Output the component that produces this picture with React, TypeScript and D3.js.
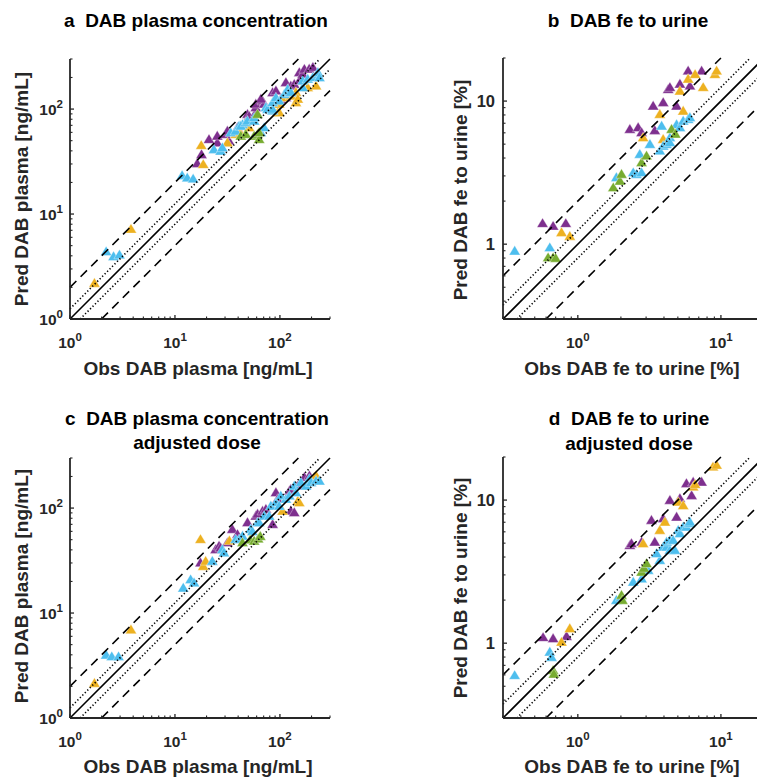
import React from 'react';
import * as d3 from 'd3';

type Pt = [number, number]; // [observed, predicted]

const PURPLE = '#7E2F8E';
const ORANGE = '#EDB120';
const BLUE = '#4DBEEE';
const GREEN = '#77AC30';

// ---------- Panel a: DAB plasma concentration ----------
const aPurple: Pt[] = [[16.3,30.4],[17.9,37.1],[21.1,51.6],[25.3,48],[25.3,55.6],[32.7,50],[30.4,57.7],[31.6,62],[39.4,67],[49.1,89.6],[50.9,86],[58.9,93],[58.9,104],[58.9,112],[68.3,120],[70.8,112],[65.8,125],[85.2,144.5],[91.6,150],[102,125],[114,129],[114,180],[127,167],[137,173],[153,187],[153,224],[165,216],[171,241],[190,242],[206,251]];
const aOrange: Pt[] = [[1.71,2.2],[3.81,7.2],[18.6,29.8],[17.8,45.3],[31.6,48],[37.9,57.7],[40.8,62],[50.9,67],[95,93],[98.5,93],[98.5,112],[106,129],[132,134],[142,116],[142,145],[127,134],[148,125],[184,161],[221,167]];
const aBlue: Pt[] = [[2.21,4.4],[2.6,3.95],[2.96,4.1],[11.7,23.4],[13.1,22.2],[14.9,21.7],[23.5,41.4],[27.2,39.9],[28.3,43],[34,59.8],[37.9,62],[40.8,69.2],[44,71.8],[42.4,69.2],[47.3,74.5],[49.1,77.3],[56.8,77.3],[56.8,83.2],[65.8,59.8],[70.8,66.8],[73.5,104],[76.2,100],[85.2,96.4],[85.2,100],[85.2,116],[91.6,129],[98.5,120],[110,139],[118.6,155],[123,144.5],[127,145],[165,161],[165,187],[184,194],[206,201],[230,216],[230,224],[238,200]];
const aGreen: Pt[] = [[42.4,55.6],[47.3,57.7],[56.8,55.6],[61.2,57.7],[63.4,51.6],[63.4,60],[61.2,89.6]];

// ---------- Panel b: DAB fe to urine ----------
const bPurple: Pt[] = [[0.567,1.40],[0.672,1.34],[0.824,1.40],[2.31,6.37],[2.64,6.55],[2.79,6.04],[3.45,6.25],[3.36,9.27],[3.95,9.8],[4.9,9.27],[4.28,12.1],[4.4,12.5],[5.17,13.2],[6.07,12.8],[5.9,16.3],[7.33,16.3]];
const bOrange: Pt[] = [[0.769,1.21],[0.879,1.14],[2.86,5.57],[3.95,5.42],[3.74,8.1],[5.45,8.55],[5.17,11.8],[5.9,14.3],[6.6,15.4],[7.52,12.5],[9.08,15.4],[9.33,16.3]];
const bBlue: Pt[] = [[0.362,0.898],[0.637,0.948],[1.86,2.93],[2.44,3.17],[2.57,3.09],[2.79,3.17],[2.71,4.26],[3.19,5.0],[3.74,4.5],[3.95,4.87],[4.17,5.0],[4.4,5.57],[4.4,5.14],[3.85,6.72],[4.9,6.87],[5.17,6.55],[5.45,7.28],[5.9,7.48],[6.07,7.69]];
const bGreen: Pt[] = [[0.62,0.807],[0.672,0.807],[0.7,0.8],[1.77,2.49],[1.97,2.77],[2.02,3.09],[2.79,3.73],[3.02,4.15],[4.52,6.37],[4.8,5.9]];

// ---------- Panel c: DAB plasma concentration, adjusted dose ----------
const cPurple: Pt[] = [[17.5,30.2],[24.4,40.5],[26.3,43.6],[27.2,42],[31.6,47],[35.2,63],[39.4,56.4],[49.1,73],[58.9,84.4],[61.2,88],[68.3,94],[73.5,98],[85.2,70.3],[91.6,141],[95,122],[123,146],[127,94],[137,91],[127,152],[147.7,163],[171,197],[191,204]];
const cOrange: Pt[] = [[1.71,2.15],[3.81,6.95],[17.5,50.5],[18.6,28],[19.6,31.3],[33,49],[106,94],[148,117],[153,113],[213,197],[221,204]];
const cBlue: Pt[] = [[2.21,4.0],[2.5,3.86],[2.9,3.86],[12,17.4],[14.1,20.9],[15.2,19.5],[22.7,31.3],[28.3,40.5],[29.3,37.7],[37.9,50.5],[40.8,50.5],[44,54.3],[52.7,63],[54.7,60],[61.2,73],[63.4,73],[70.8,84.4],[79,84.4],[82,105],[91.6,113],[98.5,105],[102,131],[114,122],[123,131],[137,163],[142,141],[158.5,176],[177,163],[190.6,190],[198,176],[221,182],[238,182]];
const cGreen: Pt[] = [[44,47],[52,50],[56.8,48.7],[62,51],[65,54]];

// ---------- Panel d: DAB fe to urine, adjusted dose ----------
const dPurple: Pt[] = [[0.572,1.1],[0.672,1.08],[0.834,1.12],[2.31,4.84],[2.37,4.98],[2.79,5.11],[3.45,5.11],[3.27,7.25],[3.95,7.45],[4.9,7.64],[4.4,10],[5.17,10.3],[6.24,10.8],[5.74,13.1],[6.4,13.4],[7.33,13.4]];
const dOrange: Pt[] = [[0.769,1.02],[0.879,1.27],[2.86,4.98],[3.74,6.17],[4.06,7.05],[5.03,9.73],[5.45,9.18],[6.4,12.4],[6.6,12.9],[8.8,17.1],[9.33,17.6]];
const dBlue: Pt[] = [[0.362,0.597],[0.637,0.87],[0.655,0.80],[1.86,2.0],[2.0,2.1],[2.44,2.68],[2.79,2.83],[3.1,3.24],[3.74,3.8],[3.55,4.24],[3.95,4.71],[4.17,4.71],[4.4,4.47],[4.77,4.47],[4.17,5.11],[4.4,5.25],[4.64,5.25],[5.03,6.17],[5.17,5.85],[5.45,6.5],[5.74,6.5],[6.07,6.87],[6.07,7.05]];
const dGreen: Pt[] = [[0.672,0.647],[0.68,0.61],[2.02,2.17],[2.05,2.0],[2.79,3.15],[2.9,3.35],[3.02,3.61]];

// axes
const plasmaDomain: [number, number] = [1, 300];
const urineDomain: [number, number] = [0.3, 20];
const plasmaTicks = [1, 10, 100];
const urineXTicks = [1, 10];
const urineYTicks = [1, 10];

// reference lines: ratio, style
const refRatios = [
  { k: 1, dash: '' },
  { k: 1.25, dash: '1.3 2.2' },
  { k: 0.8, dash: '1.3 2.2' },
  { k: 2, dash: '9 6' },
  { k: 0.5, dash: '9 6' },
];

const FONT = '"Liberation Sans", Arial, Helvetica, sans-serif';
const AX = '#262626';

type Series = { color: string; data: Pt[] };

type PanelProps = {
  x0: number; y0: number; w: number; h: number;
  xDomain: [number, number]; yDomain: [number, number];
  xTicks: number[]; yTicks: number[];
  xExp: boolean; yExp: boolean;
  title: string[]; titleX: number; titleY: number[];
  xLabel: string; yLabel: string; xLabelX: number; xLabelY: number; yLabelX: number; yLabelY: number;
  series: Series[];
};

const tri = (cx: number, cy: number) => `M${cx},${cy - 5.3}L${cx + 5.6},${cy + 4.1}L${cx - 5.6},${cy + 4.1}Z`;

function ExpLabel({ v, x, y, anchor }: { v: number; x: number; y: number; anchor: string }) {
  const e = Math.round(Math.log10(v));
  return (
    <text x={x} y={y} textAnchor={anchor} fontFamily={FONT} fontWeight="bold" fontSize={15.5} fill={AX}>
      <tspan>10</tspan>
      <tspan dy={-7} fontSize={11.5}>{e}</tspan>
    </text>
  );
}

function Panel(p: PanelProps) {
  const xs = d3.scaleLog().domain(p.xDomain).range([p.x0, p.x0 + p.w]);
  const ys = d3.scaleLog().domain(p.yDomain).range([p.y0 + p.h, p.y0]);
  const bottom = p.y0 + p.h;
  const minorX = xs.ticks().filter((t) => !p.xTicks.some((m) => Math.abs(m - t) < 1e-9));
  const minorY = ys.ticks().filter((t) => !p.yTicks.some((m) => Math.abs(m - t) < 1e-9));
  const [xmin, xmax] = p.xDomain;
  const [ymin, ymax] = p.yDomain;
  const line = d3.line<[number, number]>().x((d) => xs(d[0])).y((d) => ys(d[1]));
  return (
    <g>
      {p.series.map((s, i) => (
        <g key={i}>
          {s.data.map((d, j) => (
            <path key={j} d={tri(xs(d[0]), ys(d[1]))} fill={s.color} stroke="#ffffff" strokeOpacity={0.5} strokeWidth={0.7} />
          ))}
        </g>
      ))}
      {refRatios.map((r, i) => {
        const a = Math.max(xmin, ymin / r.k);
        const b = Math.min(xmax, ymax / r.k);
        const pts: [number, number][] = [[a, a * r.k], [b, b * r.k]];
        return (
          <path key={i} d={line(pts) || ''} fill="none" stroke="#000" strokeWidth={1.6} strokeDasharray={r.dash || undefined} />
        );
      })}
      <line x1={p.x0} x2={p.x0 + p.w} y1={bottom} y2={bottom} stroke={AX} strokeWidth={1.8} />
      <line x1={p.x0} x2={p.x0} y1={p.y0} y2={bottom} stroke={AX} strokeWidth={1.8} />
      {p.xTicks.map((t) => (
        <line key={'xt' + t} x1={xs(t)} x2={xs(t)} y1={bottom} y2={bottom - 4} stroke={AX} strokeWidth={1.3} />
      ))}
      {minorX.map((t) => (
        <line key={'xm' + t} x1={xs(t)} x2={xs(t)} y1={bottom} y2={bottom - 2.5} stroke={AX} strokeWidth={1.1} />
      ))}
      {p.yTicks.map((t) => (
        <line key={'yt' + t} x1={p.x0} x2={p.x0 + 4} y1={ys(t)} y2={ys(t)} stroke={AX} strokeWidth={1.3} />
      ))}
      {minorY.map((t) => (
        <line key={'ym' + t} x1={p.x0} x2={p.x0 + 2.5} y1={ys(t)} y2={ys(t)} stroke={AX} strokeWidth={1.1} />
      ))}
      {p.xTicks.map((t) =>
        p.xExp ? (
          <ExpLabel key={'xl' + t} v={t} x={xs(t)} y={bottom + 29} anchor="middle" />
        ) : (
          <text key={'xl' + t} x={xs(t)} y={bottom + 29} textAnchor="middle" fontFamily={FONT} fontWeight="bold" fontSize={16} fill={AX}>{t}</text>
        )
      )}
      {p.yTicks.map((t) =>
        p.yExp ? (
          <ExpLabel key={'yl' + t} v={t} x={p.x0 - 7} y={ys(t) + 5.5} anchor="end" />
        ) : (
          <text key={'yl' + t} x={p.x0 - 8} y={ys(t) + 6} textAnchor="end" fontFamily={FONT} fontWeight="bold" fontSize={16.5} fill={AX}>{t}</text>
        )
      )}
      {p.title.map((tl, i) => (
        <text key={'t' + i} x={p.titleX} y={p.titleY[i]} textAnchor="middle" fontFamily={FONT} fontWeight="bold" fontSize={19} fill="#000" style={{ whiteSpace: 'pre' }}>{tl}</text>
      ))}
      <text x={p.xLabelX} y={p.xLabelY} textAnchor="middle" fontFamily={FONT} fontWeight="bold" fontSize={19} fill={AX}>{p.xLabel}</text>
      <text transform={`translate(${p.yLabelX},${p.yLabelY}) rotate(-90)`} textAnchor="middle" fontFamily={FONT} fontWeight="bold" fontSize={19} fill={AX}>{p.yLabel}</text>
    </g>
  );
}

export default function App() {
  const W = 757, H = 778;
  return (
    <svg width={W} height={H} viewBox={`0 0 ${W} ${H}`} style={{ position: 'absolute', left: 0, top: 0, background: '#fff' }}>
      <rect x={0} y={0} width={W} height={H} fill="#fff" />
      <Panel
        x0={70} y0={59} w={260} h={260}
        xDomain={plasmaDomain} yDomain={plasmaDomain}
        xTicks={plasmaTicks} yTicks={plasmaTicks} xExp yExp
        title={['a  DAB plasma concentration']} titleX={196} titleY={[27]}
        xLabel="Obs DAB plasma [ng/mL]" yLabel="Pred DAB plasma [ng/mL]"
        xLabelX={198} xLabelY={375} yLabelX={28} yLabelY={189}
        series={[{ color: PURPLE, data: aPurple }, { color: ORANGE, data: aOrange }, { color: BLUE, data: aBlue }, { color: GREEN, data: aGreen }]}
      />
      <Panel
        x0={503} y0={58} w={261} h={261}
        xDomain={urineDomain} yDomain={urineDomain}
        xTicks={urineXTicks} yTicks={urineYTicks} xExp yExp={false}
        title={['b  DAB fe to urine']} titleX={628} titleY={[27]}
        xLabel="Obs DAB fe to urine [%]" yLabel="Pred DAB fe to urine [%]"
        xLabelX={632} xLabelY={375} yLabelX={467} yLabelY={190}
        series={[{ color: PURPLE, data: bPurple }, { color: ORANGE, data: bOrange }, { color: BLUE, data: bBlue }, { color: GREEN, data: bGreen }]}
      />
      <Panel
        x0={70} y0={458} w={260} h={260}
        xDomain={plasmaDomain} yDomain={plasmaDomain}
        xTicks={plasmaTicks} yTicks={plasmaTicks} xExp yExp
        title={['c  DAB plasma concentration', 'adjusted dose']} titleX={197} titleY={[425, 449]}
        xLabel="Obs DAB plasma [ng/mL]" yLabel="Pred DAB plasma [ng/mL]"
        xLabelX={198} xLabelY={773} yLabelX={28} yLabelY={586}
        series={[{ color: PURPLE, data: cPurple }, { color: ORANGE, data: cOrange }, { color: BLUE, data: cBlue }, { color: GREEN, data: cGreen }]}
      />
      <Panel
        x0={503} y0={457} w={261} h={261}
        xDomain={urineDomain} yDomain={urineDomain}
        xTicks={urineXTicks} yTicks={urineYTicks} xExp yExp={false}
        title={['d  DAB fe to urine', 'adjusted dose']} titleX={629} titleY={[425, 450]}
        xLabel="Obs DAB fe to urine [%]" yLabel="Pred DAB fe to urine [%]"
        xLabelX={632} xLabelY={773} yLabelX={467} yLabelY={588}
        series={[{ color: PURPLE, data: dPurple }, { color: ORANGE, data: dOrange }, { color: BLUE, data: dBlue }, { color: GREEN, data: dGreen }]}
      />
    </svg>
  );
}
